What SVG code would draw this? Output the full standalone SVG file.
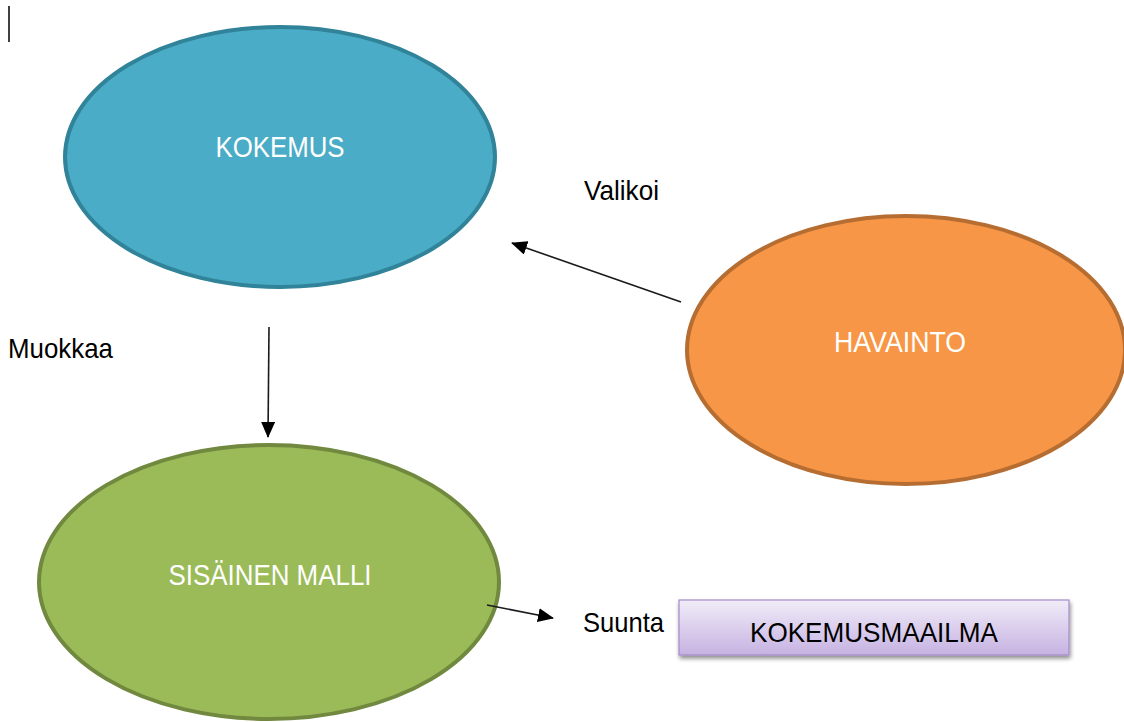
<svg xmlns="http://www.w3.org/2000/svg" width="1124" height="722" viewBox="0 0 1124 722">
  <style>
    .node-text { font-family: "Liberation Sans", Arial, sans-serif; font-size: 29px; fill: #ffffff; text-anchor: middle; }
    .label { font-family: "Liberation Sans", Arial, sans-serif; font-size: 28px; fill: #000000; }
    .conn { stroke: #1a1a1a; stroke-width: 1.6; fill: none; }
  </style>
  <defs>
    <marker id="arrow" markerUnits="userSpaceOnUse" markerWidth="16" markerHeight="14" refX="15" refY="7" orient="auto">
      <path d="M0,0 L16,7 L0,14 Z" fill="#000000"/>
    </marker>
    <linearGradient id="purpleGrad" x1="0" y1="0" x2="0" y2="1">
      <stop offset="0" stop-color="#F1ECF8"/>
      <stop offset="1" stop-color="#C6B2E2"/>
    </linearGradient>
    <filter id="shadow" x="-10%" y="-20%" width="120%" height="160%">
      <feGaussianBlur in="SourceAlpha" stdDeviation="2"/>
      <feOffset dx="1" dy="3" result="b"/>
      <feComponentTransfer><feFuncA type="linear" slope="0.45"/></feComponentTransfer>
      <feMerge><feMergeNode/><feMergeNode in="SourceGraphic"/></feMerge>
    </filter>
  </defs>
  <rect x="0" y="0" width="1124" height="722" fill="#ffffff"/>
  <line x1="9" y1="6" x2="9" y2="42" stroke="#000000" stroke-width="1.5"/>

  <g id="kokemus">
    <ellipse cx="280" cy="157" rx="215" ry="130" fill="#4AACC6" stroke="#31839A" stroke-width="4"/>
    <text class="node-text" x="280" y="157" textLength="129" lengthAdjust="spacingAndGlyphs">KOKEMUS</text>
  </g>

  <g id="havainto">
    <ellipse cx="906" cy="350" rx="219" ry="134" fill="#F79646" stroke="#B66D31" stroke-width="4"/>
    <text class="node-text" x="900" y="352" textLength="132" lengthAdjust="spacingAndGlyphs">HAVAINTO</text>
  </g>

  <g id="sisainen-malli">
    <ellipse cx="269" cy="582" rx="230" ry="137" fill="#9BBB59" stroke="#71893F" stroke-width="4"/>
    <text class="node-text" x="270" y="585" textLength="203" lengthAdjust="spacingAndGlyphs">SISÄINEN MALLI</text>
  </g>

  <g id="kokemusmaailma">
    <rect x="679" y="600" width="390" height="55" fill="url(#purpleGrad)" stroke="#A58BC9" stroke-width="1.2" filter="url(#shadow)"/>
    <text x="874" y="642" font-family="Liberation Sans, Arial, sans-serif" font-size="28" fill="#000000" text-anchor="middle" textLength="248" lengthAdjust="spacingAndGlyphs">KOKEMUSMAAILMA</text>
  </g>

  <g id="connectors">
    <line class="conn" x1="681" y1="302" x2="512" y2="243" marker-end="url(#arrow)"/>
    <line class="conn" x1="269" y1="327" x2="268" y2="437" marker-end="url(#arrow)"/>
    <line class="conn" x1="487" y1="605" x2="553" y2="618" marker-end="url(#arrow)"/>
  </g>

  <g id="labels">
    <text class="label" x="584" y="200" textLength="75" lengthAdjust="spacingAndGlyphs">Valikoi</text>
    <text class="label" x="8" y="358" textLength="105" lengthAdjust="spacingAndGlyphs">Muokkaa</text>
    <text class="label" x="583" y="632" textLength="81" lengthAdjust="spacingAndGlyphs">Suunta</text>
  </g>
</svg>
